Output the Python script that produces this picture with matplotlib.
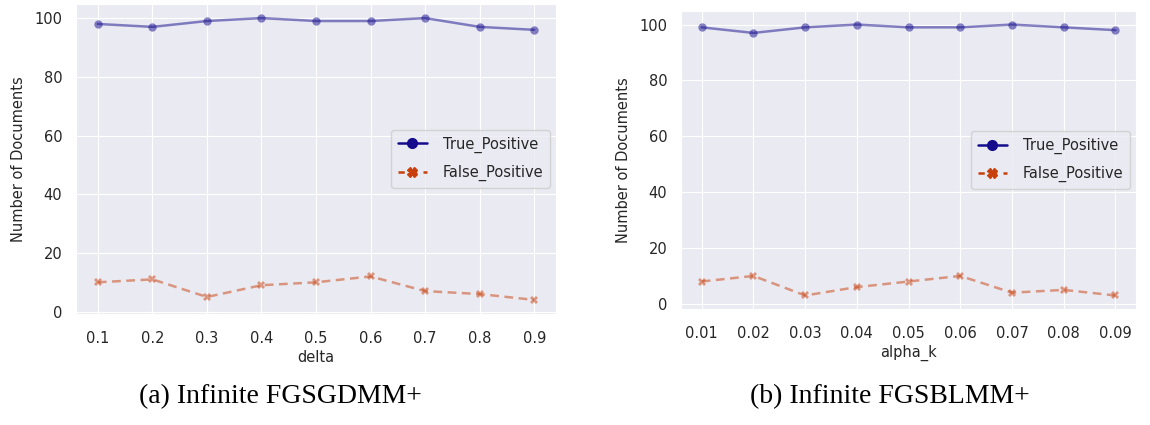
"""
Detected documents vs. hyper-parameter for the infinite FGSGDMM+ / FGSBLMM+ models.
"""
import matplotlib
matplotlib.use('Agg')
import matplotlib.pyplot as plt
from matplotlib.lines import Line2D
import seaborn as sns

sns.set_style('darkgrid')
plt.rcParams['font.family'] = ['DejaVu Sans']

# (a) Infinite FGSGDMM+, sweep over delta
delta = [0.1, 0.2, 0.3, 0.4, 0.5, 0.6, 0.7, 0.8, 0.9]
tp_delta = [98, 97, 99, 100, 99, 99, 100, 97, 96]
fp_delta = [10, 11, 5, 9, 10, 12, 7, 6, 4]

# (b) Infinite FGSBLMM+, sweep over alpha_k
alpha_k = [0.01, 0.02, 0.03, 0.04, 0.05, 0.06, 0.07, 0.08, 0.09]
tp_alpha = [99, 97, 99, 100, 99, 99, 100, 99, 98]
fp_alpha = [8, 10, 3, 6, 8, 10, 4, 5, 3]

TP_COLOR = '#140c8c'
FP_COLOR = '#c8400c'

fig = plt.figure(figsize=(11.5, 4.25), dpi=100)
ax1 = fig.add_axes([0.0661, 0.2612, 0.4174, 0.7294])
ax2 = fig.add_axes([0.5922, 0.2729, 0.3957, 0.7012])


def draw(ax, x, tp, fp, xlabel, ticklabels):
    ax.plot(x, tp, color=TP_COLOR, alpha=0.5, linewidth=1.8,
            marker='o', markersize=6, markeredgewidth=0)
    ax.plot(x, fp, color=FP_COLOR, alpha=0.5, linewidth=1.8, linestyle=(0, (3.5, 2.2)),
            marker='X', markersize=6, markeredgewidth=0)
    ax.set_xticks(x)
    ax.set_xticklabels(ticklabels)
    ax.set_yticks([0, 20, 40, 60, 80, 100])
    ax.tick_params(axis='both', labelsize=10.5, length=0, colors='#262626')
    ax.tick_params(axis='x', pad=12)
    ax.tick_params(axis='y', pad=10)
    ax.set_xlabel(xlabel, fontsize=10.5, color='#262626', labelpad=3)
    ax.set_ylabel('Number of Documents', fontsize=10.5, color='#262626', labelpad=6)

    # legend keys drawn opaque, unlike the faded lines
    handles = [
        Line2D([], [], color=TP_COLOR, linewidth=1.8, marker='o', markersize=7),
        Line2D([], [], color=FP_COLOR, linewidth=1.8, linestyle=(0, (2.5, 2.5)),
               marker='X', markersize=7),
    ]
    ax.legend(handles, ['True_Positive', 'False_Positive'], loc='center right',
              fontsize=10.5, handlelength=2.0, borderpad=0.45, labelspacing=0.85,
              handletextpad=1.1, borderaxespad=0.4, frameon=True)


draw(ax1, delta, tp_delta, fp_delta, 'delta', [f'{v:.1f}' for v in delta])
draw(ax2, alpha_k, tp_alpha, fp_alpha, 'alpha_k', [f'{v:.2f}' for v in alpha_k])

fig.text(0.2435, 0.066, '(a) Infinite FGSGDMM+', ha='center', va='center',
         fontsize=20, family='Liberation Serif', color='black')
fig.text(0.774, 0.066, '(b) Infinite FGSBLMM+', ha='center', va='center',
         fontsize=20, family='Liberation Serif', color='black')

fig.savefig('out.png', dpi=100, facecolor='white')
